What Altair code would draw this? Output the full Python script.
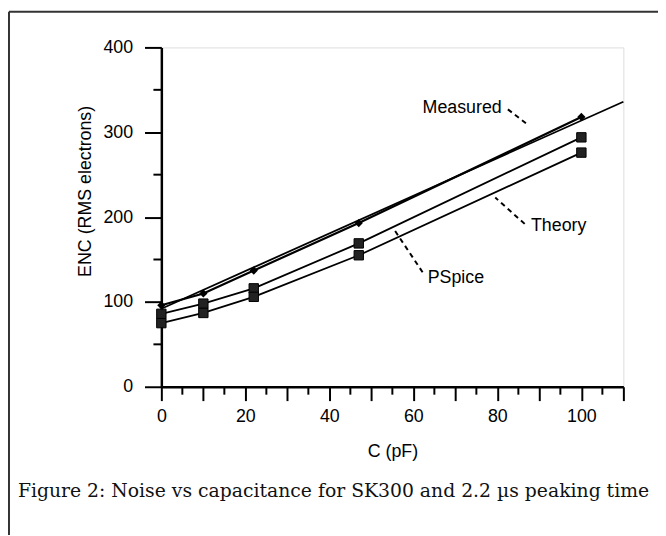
import altair as alt
import pandas as pd

# ---- data ----
C_PF = [0, 10, 22, 47, 100]
MEASURED = [96, 110, 137, 193, 318]
PSPICE = [86, 98, 116, 169, 294]
THEORY = [75, 87, 106, 155, 276]

FIT_C = [0, 110]
FIT_ENC = [92, 336]

X_MAJOR = [0, 10, 20, 30, 40, 50, 60, 70, 80, 90, 100, 110]
X_MINOR = [5, 15, 25, 35, 45, 55, 65, 75, 85, 95, 105]
Y_MAJOR = [0, 100, 200, 300, 400]
Y_MINOR = [50, 150, 250, 350]

LABELS = ["Measured", "Theory", "PSpice"]
LABEL_X = [62.2, 88.0, 63.4]
LABEL_Y = [329, 189, 128]
LEAD_X1 = [82.5, 86.5, 62.2]
LEAD_Y1 = [327, 192, 135]
LEAD_X2 = [87.5, 79.5, 55.2]
LEAD_Y2 = [308, 223, 187]

CAPTION = "Figure 2: Noise vs capacitance for SK300 and 2.2 \u00b5s peaking time"

W, H = 467, 343
PAD_L, PAD_T = 155, 37
FONT = "Liberation Sans"
FS = 18

xscale = alt.Scale(domain=[0, 110], nice=False, zero=False)
yscale = alt.Scale(domain=[0, 400], nice=False, zero=False)

xaxis = alt.Axis(values=X_MAJOR, labelExpr="datum.value % 20 == 0 && datum.value <= 100 ? datum.label : ''",
                 tickSize=14, tickWidth=2, tickColor="black", domainWidth=2.5, domainColor="black",
                 labelFont=FONT, labelFontSize=FS, labelColor="black", labelPadding=7,
                 titleFont=FONT, titleFontSize=FS, titleFontWeight="normal", titleColor="black",
                 titlePadding=17, grid=False, labelFlush=False, labelOverlap=False)
yaxis = alt.Axis(values=Y_MAJOR, tickSize=17, tickWidth=2, tickColor="black", domainWidth=2.5,
                 domainColor="black", labelFont=FONT, labelFontSize=FS, labelColor="black",
                 labelPadding=12, titleFont=FONT, titleFontSize=FS, titleFontWeight="normal",
                 titleColor="black", titleX=-77, titleY=145, titleAngle=270, titleAlign="center",
                 titleBaseline="middle", grid=False, labelFlush=False, labelOverlap=False)


def X(field):
    return alt.X(f"{field}:Q", scale=xscale, axis=xaxis, title="C (pF)")


def Y(field):
    return alt.Y(f"{field}:Q", scale=yscale, axis=yaxis, title="ENC (RMS electrons)")


rows = []
for name, vals in [("Measured", MEASURED), ("PSpice", PSPICE), ("Theory", THEORY)]:
    for c, v in zip(C_PF, vals):
        rows.append({"series": name, "C": c, "ENC": v})
df = pd.DataFrame(rows)
fit_df = pd.DataFrame({"C": FIT_C, "ENC": FIT_ENC})

fit = alt.Chart(fit_df).mark_line(color="black", strokeWidth=1.8).encode(x=X("C"), y=Y("ENC"))

meas_df = df[df.series == "Measured"]
meas_line = alt.Chart(meas_df).mark_line(color="black", strokeWidth=2.2).encode(x=X("C"), y=Y("ENC"))
meas_pts = alt.Chart(meas_df).mark_point(shape="diamond", filled=True, color="black", size=70,
                                         opacity=1).encode(x=X("C"), y=Y("ENC"))

sq_df = df[df.series != "Measured"]
sq_lines = alt.Chart(sq_df).mark_line(color="black", strokeWidth=1.8).encode(
    x=X("C"), y=Y("ENC"), detail="series:N")
sq_pts = alt.Chart(sq_df).mark_point(shape="square", filled=True, fill="#222222", stroke="black",
                                     strokeWidth=1, size=90, opacity=1).encode(
    x=X("C"), y=Y("ENC"), detail="series:N")

xminor = alt.Chart(pd.DataFrame({"C": X_MINOR})).mark_rule(color="black", strokeWidth=2).encode(
    x=X("C"), y=alt.value(H), y2=alt.value(H + 8))
yminor = alt.Chart(pd.DataFrame({"ENC": Y_MINOR})).mark_rule(color="black", strokeWidth=2).encode(
    y=Y("ENC"), x=alt.value(0), x2=alt.value(-8))

ann_df = pd.DataFrame({"label": LABELS, "C": LABEL_X, "ENC": LABEL_Y})
ann = alt.Chart(ann_df).mark_text(align="left", baseline="middle", font=FONT, fontSize=FS,
                                  color="black").encode(x=X("C"), y=Y("ENC"), text="label:N")

lead_df = pd.DataFrame({"C": LEAD_X1, "ENC": LEAD_Y1, "C2": LEAD_X2, "ENC2": LEAD_Y2})
leads = alt.Chart(lead_df).mark_rule(color="black", strokeWidth=2, strokeDash=[5, 4]).encode(
    x=X("C"), y=Y("ENC"), x2="C2:Q", y2="ENC2:Q")

one = pd.DataFrame({"t": [CAPTION]})
caption = alt.Chart(one).mark_text(align="left", baseline="middle", font="DejaVu Serif",
                                   fontSize=19, color="#111111").encode(
    x=alt.value(18 - 8 - PAD_L), y=alt.value(493 - 8 - PAD_T), text="t:N")

frame_top = alt.Chart(one).mark_rule(color="#333333", strokeWidth=2).encode(
    x=alt.value(-PAD_L + 1), x2=alt.value(W + 200), y=alt.value(-PAD_T + 1))
frame_left = alt.Chart(one).mark_rule(color="#333333", strokeWidth=2).encode(
    x=alt.value(-PAD_L + 1), y=alt.value(-PAD_T + 1), y2=alt.value(H + 400))

chart = alt.layer(
    frame_top, frame_left, xminor, yminor, fit, sq_lines, meas_line, sq_pts, meas_pts,
    leads, ann, caption
).properties(
    width=W, height=H,
    autosize=alt.AutoSizeParams(type="none"),
    padding={"left": PAD_L, "top": PAD_T, "right": 657 - PAD_L - W, "bottom": 527 - PAD_T - H},
).configure_view(stroke="black", strokeWidth=2).configure(background="white")

chart.save("out.html", embed_options={"renderer": "svg", "actions": False})
